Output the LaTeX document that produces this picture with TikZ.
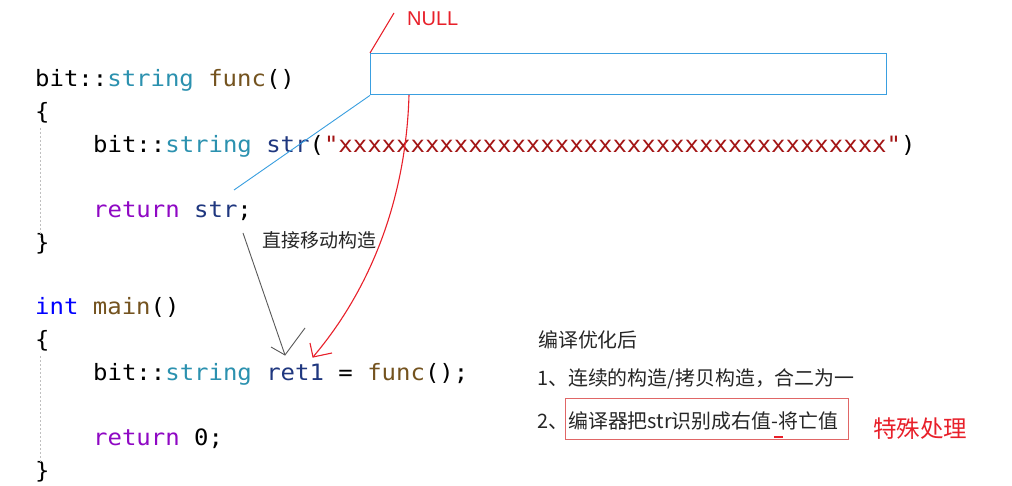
\documentclass[tikz,border=0pt]{standalone}
\usepackage{fontspec}
\newfontfamily\codefont[FakeStretch=1.065]{DejaVu Sans Mono}
\newfontfamily\cjkfont{Noto Sans CJK SC}
\newfontfamily\latinsans{Liberation Sans}
\definecolor{ctype}{HTML}{2B91AF}
\definecolor{cfunc}{HTML}{74531F}
\definecolor{cvar}{HTML}{1F377F}
\definecolor{ckw}{HTML}{8F08C4}
\definecolor{cint}{HTML}{0000FF}
\definecolor{clit}{HTML}{A31515}
\definecolor{cblue}{HTML}{3A9FE0}
\definecolor{cred}{HTML}{E8202A}
\definecolor{cboxred}{HTML}{E06666}
\definecolor{ctext}{HTML}{262626}
\begin{document}
\begin{tikzpicture}[x=1pt,y=-1pt,
  code/.style={anchor=base west,inner sep=0pt,font=\codefont\fontsize{22.5}{27}\selectfont},
  cjk/.style={anchor=base west,inner sep=0pt,text=ctext,font=\cjkfont\fontsize{19.9}{24}\selectfont},
  guide/.style={draw=black!25,dash pattern=on 2pt off 2pt,line width=0.8pt},
  grayarrow/.style={draw=black!65,line width=0.9pt},
  redline/.style={draw=cred,line width=1.1pt},
  blueline/.style={draw=cblue,line width=0.9pt}]
\useasboundingbox (0,0) rectangle (1012,486);
\fill[white] (0,0) rectangle (1012,486);
% code
\node[code] (l1) at (35,87) {bit::\textcolor{ctype}{string} \textcolor{cfunc}{func}()};
\node[code] (l2) at (35,120) {\{};
\node[code] (l3) at (93,153) {bit::\textcolor{ctype}{string} \textcolor{cvar}{str}(\textcolor{clit}{"xxxxxxxxxxxxxxxxxxxxxxxxxxxxxxxxxxxxxx"})};
\node[code] (l4) at (93,218) {\textcolor{ckw}{return} \textcolor{cvar}{str};};
\node[code] (l5) at (35,251) {\}};
\node[code] (l6) at (35,315) {\textcolor{cint}{int} \textcolor{cfunc}{main}()};
\node[code] (l7) at (35,347) {\{};
\node[code] (l8) at (93,380) {bit::\textcolor{ctype}{string} \textcolor{cvar}{ret1} = \textcolor{cfunc}{func}();};
\node[code] (l9) at (93,445) {\textcolor{ckw}{return} 0;};
\node[code] (l10) at (35,478) {\}};
% indent guides
\coordinate (g1a) at (40,128); \coordinate (g1b) at (40,238);
\coordinate (g2a) at (40,356); \coordinate (g2b) at (40,464);
\draw[guide] (g1a) -- (g1b);
\draw[guide] (g2a) -- (g2b);
% blue box and lines
\node[draw=cblue,line width=1.4pt,minimum width=516pt,minimum height=41pt,anchor=north west,inner sep=0pt] (box) at (370,53) {};
\coordinate (blueEnd) at (234,190);
\draw[blueline] (box.south west) -- (blueEnd);
% NULL
\node[anchor=base west,inner sep=0pt,text=cred,font=\latinsans\fontsize{20}{24}\selectfont] (null) at (407,26) {NULL};
\coordinate (nullEnd) at (394,13);
\draw[redline] (box.north west) -- (nullEnd);
% red curve
\coordinate (redStart) at (409,95);
\coordinate (redTip) at (313,357);
\coordinate (redBarbA) at (310,343);
\coordinate (redBarbB) at (332,353);
\draw[redline] (redStart) .. controls (406,200) and (370,290) .. (redTip);
\draw[redline] (redBarbA) -- (redTip) -- (redBarbB);
% gray arrow
\coordinate (grayStart) at (243,233);
\coordinate (grayTip) at (285,355);
\coordinate (grayBarbA) at (271,347);
\coordinate (grayBarbB) at (305,328);
\draw[grayarrow] (grayStart) -- (grayTip);
\draw[grayarrow] (grayBarbA) -- (grayTip) -- (grayBarbB);
\node[cjk,font=\cjkfont\fontsize{19}{23}\selectfont] (move) at (262,248) {直接移动构造};
% right text
\node[cjk] (opt) at (538,348) {编译优化后};
\node[cjk] (item1) at (537,385) {1、连续的构造/拷贝构造，合二为一};
\node[cjk] (item2) at (537,428) {2、};
\node[cjk] (item2b) at (568,428) {编译器把str识别成右值-将亡值};
\node[draw=cboxred,line width=0.9pt,minimum width=283pt,minimum height=41pt,anchor=north west,inner sep=0pt] (redbox) at (565,398) {};
\coordinate (dashA) at (774,437); \coordinate (dashB) at (783,437);
\draw[draw=cred,line width=1.6pt] (dashA) -- (dashB);
\node[anchor=base west,inner sep=0pt,text=cred,font=\cjkfont\fontsize{23.5}{28}\selectfont] (special) at (873,437) {特殊处理};
\end{tikzpicture}
\end{document}
